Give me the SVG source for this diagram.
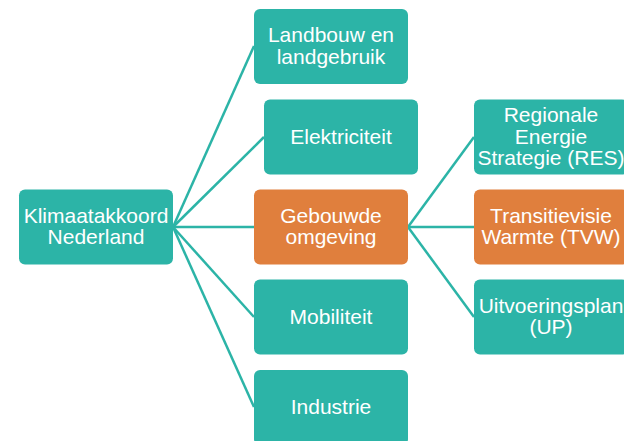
<svg xmlns="http://www.w3.org/2000/svg" width="624" height="441" viewBox="0 0 624 441">
<style>
.t{fill:#2CB4A7}
.o{fill:#E07F3D}
text{font-family:"Liberation Sans",Arial,sans-serif;font-size:21px;fill:#fff;text-anchor:middle}
#connectors line{stroke:#2CB4A7;stroke-width:2.5}
</style>
<rect width="624" height="441" fill="#fff"/>
<g id="connectors">
<line x1="173" y1="227" x2="254" y2="46"/>
<line x1="173" y1="227" x2="264" y2="137"/>
<line x1="173" y1="227" x2="254" y2="227"/>
<line x1="173" y1="227" x2="254" y2="317"/>
<line x1="173" y1="227" x2="254" y2="407"/>
<line x1="408" y1="227" x2="474" y2="137"/>
<line x1="408" y1="227" x2="474" y2="227"/>
<line x1="408" y1="227" x2="474" y2="317"/>
</g>
<g id="root">
<rect class="t" x="19" y="189.5" width="154" height="75" rx="6"/>
<text x="96" y="222.5">Klimaatakkoord</text>
<text x="96" y="244">Nederland</text>
</g>
<g id="landbouw">
<rect class="t" x="254" y="9" width="154" height="75" rx="6"/>
<text x="331" y="42">Landbouw en</text>
<text x="331" y="63.5">landgebruik</text>
</g>
<g id="elektriciteit">
<rect class="t" x="264" y="99.5" width="154" height="75" rx="6"/>
<text x="341" y="144">Elektriciteit</text>
</g>
<g id="gebouwde">
<rect class="o" x="254" y="189.5" width="154" height="75" rx="6"/>
<text x="331" y="222.5">Gebouwde</text>
<text x="331" y="244">omgeving</text>
</g>
<g id="mobiliteit">
<rect class="t" x="254" y="279.5" width="154" height="75" rx="6"/>
<text x="331" y="324">Mobiliteit</text>
</g>
<g id="industrie">
<rect class="t" x="254" y="370" width="154" height="75" rx="6"/>
<text x="331" y="414">Industrie</text>
</g>
<g id="res">
<rect class="t" x="474" y="99.5" width="154" height="75" rx="6"/>
<text x="551" y="122">Regionale</text>
<text x="551" y="143.5">Energie</text>
<text x="551" y="165">Strategie (RES)</text>
</g>
<g id="tvw">
<rect class="o" x="474" y="189.5" width="154" height="75" rx="6"/>
<text x="551" y="222.5">Transitievisie</text>
<text x="551" y="244">Warmte (TVW)</text>
</g>
<g id="up">
<rect class="t" x="474" y="279.5" width="154" height="75" rx="6"/>
<text x="551" y="312.5">Uitvoeringsplan</text>
<text x="551" y="334">(UP)</text>
</g>
</svg>
